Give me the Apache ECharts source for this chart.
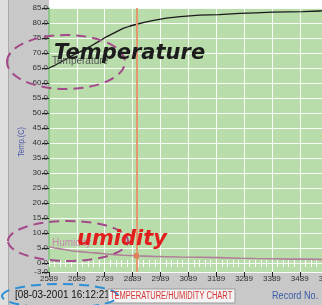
<!DOCTYPE html>
<html>
<head>
<meta charset="utf-8">
<script src="https://cdn.jsdelivr.net/npm/echarts@6/dist/echarts.min.js"></script>
<style>
html,body{margin:0;padding:0;background:#c8c8c8;}
#chart{width:322px;height:305px;}
</style>
</head>
<body>
<div id="chart"></div>
<script>
// ---- data ----
const records = [2589, 2610, 2630, 2650, 2675, 2700, 2735, 2765, 2795, 2825, 2855, 2880, 2900, 2930, 2960, 3010, 3060, 3130, 3200, 3274, 3330, 3392, 3450, 3500, 3562, 3620, 3689];
const temperature = [65.0, 65.9, 66.9, 67.9, 69.3, 70.4, 72.1, 73.7, 75.4, 76.8, 78.2, 79.0, 79.5, 80.2, 80.8, 81.6, 82.1, 82.6, 82.8, 83.2, 83.4, 83.6, 83.7, 83.8, 84.0, 84.1, 84.2];
const humidity = [5.4, 5.0, 4.7, 4.4, 4.0, 3.8, 3.5, 3.3, 3.0, 2.8, 2.6, 2.5, 2.4, 2.3, 2.2, 2.1, 2.0, 1.9, 1.8, 1.6, 1.5, 1.4, 1.3, 1.3, 1.2, 1.1, 1.1];
const xTicks = [2589, 2689, 2789, 2889, 2989, 3089, 3189, 3289, 3389, 3489, 3589, 3689];
const yTicks = [-3, 0, 5, 10, 15, 20, 25, 30, 35, 40, 45, 50, 55, 60, 65, 70, 75, 80, 85];
const cursorRecord = 2903;
const cursorHumidity = 2.4;

const minorTicks = [];
for (let r = 2589; r <= 3689; r += 20) minorTicks.push(r);

const tempPts = records.map((r, i) => [r, temperature[i]]);
const humPts = records.map((r, i) => [r, humidity[i]]);

const labelFont = "'Liberation Sans Narrow', 'Liberation Sans', sans-serif";

const chart = echarts.init(document.getElementById('chart'));
chart.setOption({
  animation: false,
  backgroundColor: '#c8c8c8',
  grid: {
    left: 49, top: 8, height: 264, width: 306.5,
    show: true, backgroundColor: '#b9dcab', borderWidth: 0,
    containLabel: false, outerBoundsMode: 'none'
  },
  xAxis: [{
    type: 'value', min: 2589, max: 3689, position: 'bottom',
    axisLine: { show: false, onZero: false },
    axisTick: { show: true, customValues: xTicks, length: 5, lineStyle: { color: '#222', width: 1 } },
    axisLabel: { customValues: xTicks.slice(0, 11), formatter: v => String(v), fontSize: 8, color: '#333', margin: 3, fontFamily: labelFont, hideOverlap: false },
    splitLine: { show: true, lineStyle: { color: 'rgba(255,255,255,0.9)', width: 1 } }
  }, {
    type: 'value', min: 2589, max: 3689, position: 'bottom',
    axisLine: { show: false, onZero: true, onZeroAxisIndex: 0 },
    axisTick: { show: true, customValues: minorTicks, length: 4, lineStyle: { color: '#ffffff', width: 1 } },
    axisLabel: { show: false },
    splitLine: { show: false }
  }, {
    type: 'value', min: 2589, max: 3689, position: 'top',
    axisLine: { show: false, onZero: true, onZeroAxisIndex: 0 },
    axisTick: { show: true, customValues: minorTicks, length: 3, lineStyle: { color: '#ffffff', width: 1 } },
    axisLabel: { show: false },
    splitLine: { show: false }
  }],
  yAxis: {
    type: 'value', min: -3, max: 85,
    axisLine: { show: true, onZero: false, lineStyle: { color: '#8fc48a', width: 2 } },
    axisTick: { show: true, customValues: yTicks, length: 7, lineStyle: { color: '#222', width: 1 } },
    axisLabel: { customValues: yTicks, formatter: v => v.toFixed(1), fontSize: 8, color: '#333', margin: 1, fontFamily: labelFont },
    splitLine: { show: true, lineStyle: { color: 'rgba(255,255,255,0.9)', width: 1 } }
  },
  series: [{
    type: 'line', name: 'Temperature', data: tempPts, showSymbol: false,
    lineStyle: { color: '#1a1a1a', width: 1.3 },
    markLine: {
      silent: true, symbol: 'none', label: { show: false },
      lineStyle: { color: '#e3996f', width: 2, type: 'solid' },
      data: [{ xAxis: cursorRecord }]
    },
    z: 3
  }, {
    type: 'line', name: 'Humidity', data: humPts, showSymbol: false,
    lineStyle: { color: '#b0809a', width: 1.6 },
    markPoint: {
      silent: true, symbol: 'rect', symbolSize: 5, label: { show: false },
      itemStyle: { color: '#e07f55' },
      data: [{ coord: [cursorRecord, cursorHumidity] }]
    },
    z: 3
  }],
  graphic: [
    { type: 'rect', shape: { x: 49, y: 0, width: 273, height: 8 }, style: { fill: '#ffffff' }, z: -5, silent: true },
    { type: 'rect', shape: { x: 0, y: 0, width: 8, height: 305 }, style: { fill: '#dedede' }, z: -5, silent: true },
    { type: 'rect', shape: { x: 8, y: 0, width: 1, height: 305 }, style: { fill: '#a9a9a9' }, z: -5, silent: true },
    // small series labels
    { type: 'text', x: 52, y: 61, style: { text: 'Temperature', font: '10px Liberation Sans', fill: '#555', align: 'left', verticalAlign: 'middle' }, z: 10, silent: true },
    { type: 'text', x: 52, y: 243, style: { text: 'Humidity', font: '10px Liberation Sans', fill: '#c588ad', align: 'left', verticalAlign: 'middle' }, z: 10, silent: true },
    // ellipses
    { type: 'ellipse', shape: { cx: 66, cy: 62, rx: 59, ry: 27 }, style: { fill: 'none', stroke: '#a4498a', lineWidth: 2, lineDash: [10, 6] }, z: 11, silent: true },
    { type: 'ellipse', shape: { cx: 68, cy: 241, rx: 60, ry: 20 }, style: { fill: 'none', stroke: '#a4498a', lineWidth: 2, lineDash: [10, 6] }, z: 11, silent: true },
    { type: 'ellipse', shape: { cx: 60, cy: 296, rx: 58, ry: 12 }, style: { fill: 'none', stroke: '#2b8fd6', lineWidth: 2, lineDash: [10, 6] }, z: 11, silent: true },
    // big annotations
    { type: 'text', x: 54, y: 54, style: { text: 'Temperature', font: 'italic bold 21px DejaVu Sans', fill: '#1c1c1c', align: 'left', verticalAlign: 'middle' }, z: 12, silent: true },
    { type: 'text', x: 77, y: 240, style: { text: 'umidity', font: 'italic bold 21px DejaVu Sans', fill: '#e11d1d', align: 'left', verticalAlign: 'middle' }, z: 12, silent: true },
    // y axis name
    { type: 'text', x: 22, y: 142, rotation: Math.PI / 2, scaleX: 0.8, style: { text: 'Temp.(C)', font: '9px Liberation Sans', fill: '#4858a8', align: 'center', verticalAlign: 'middle' }, z: 10, silent: true },
    // bottom texts
    { type: 'text', x: 15, y: 295, scaleX: 0.9, style: { text: '[08-03-2001 16:12:21', font: '11px Liberation Sans', fill: '#111', align: 'left', verticalAlign: 'middle' }, z: 10, silent: true },
    { type: 'rect', shape: { x: 108, y: 289, width: 127, height: 14 }, style: { fill: '#f4f4f4', stroke: '#9a9a9a', lineWidth: 1 }, z: 10, silent: true },
    { type: 'text', x: 110, y: 296.5, scaleX: 0.75, style: { text: 'TEMPERATURE/HUMIDITY CHART', font: '10px Liberation Sans', fill: '#d43434', align: 'left', verticalAlign: 'middle' }, z: 11, silent: true },
    { type: 'text', x: 272, y: 296, scaleX: 0.83, style: { text: 'Record No.', font: '11px Liberation Sans', fill: '#3c5aa8', align: 'left', verticalAlign: 'middle' }, z: 10, silent: true }
  ]
});
</script>
</body>
</html>
